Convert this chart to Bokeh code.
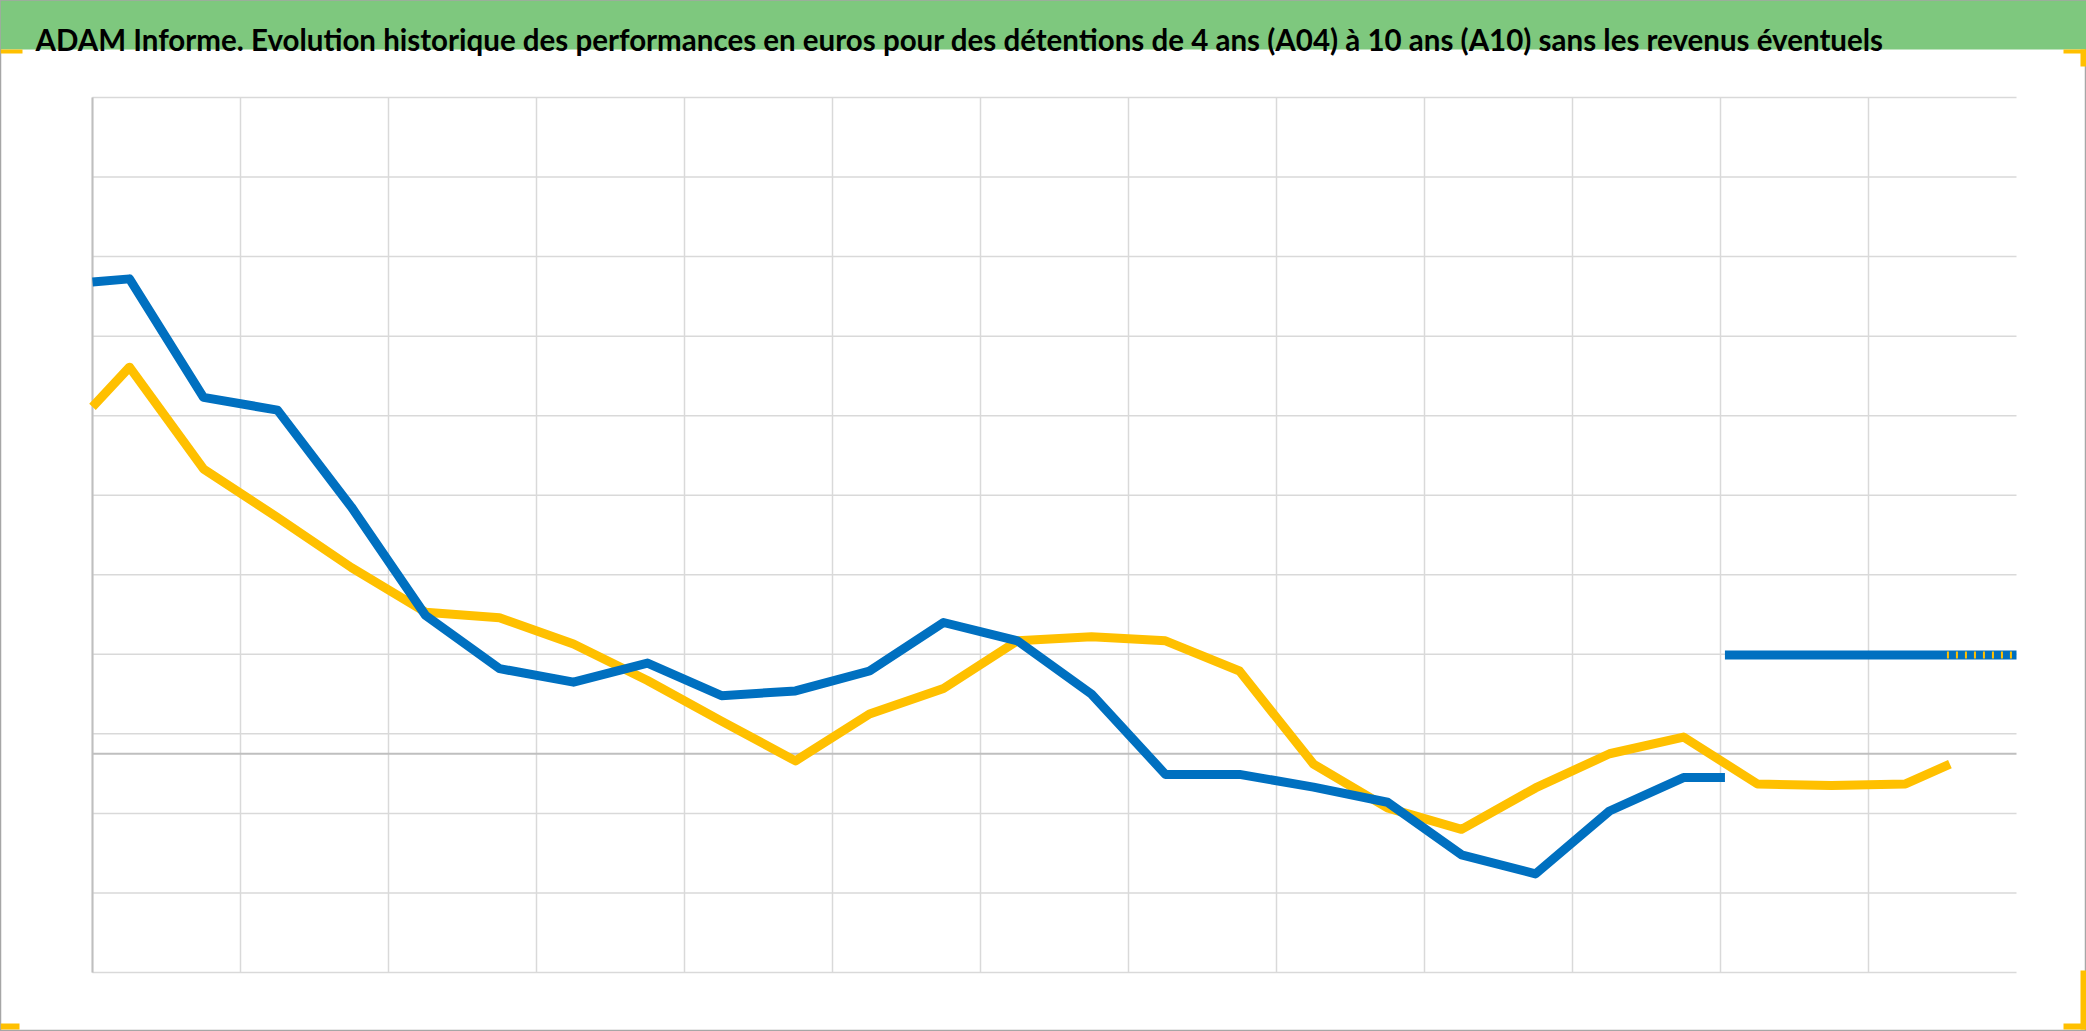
from bokeh.plotting import figure
from bokeh.models import Range1d, Label, BoxAnnotation
from bokeh.embed import file_html
from bokeh.resources import INLINE

title_text = ("ADAM Informe. Evolution historique des performances en euros pour des "
              "détentions de 4 ans (A04) à 10 ans (A10) sans les revenus éventuels")

# grid positions (no tick labels shown in the reference)
x_grid = [0, 1, 2, 3, 4, 5, 6, 7, 8, 9, 10, 11, 12]
y_grid = [-27.5, -17.5, -7.5, 2.5, 12.5, 22.5, 32.5, 42.5, 52.5, 62.5, 72.5, 82.5]
x_min, x_max = 0, 13
y_min, y_max = -27.5, 82.5

# series A04 (blue)
a04_x = [0, 0.25, 0.75, 1.25, 1.75, 2.25, 2.75, 3.25, 3.75, 4.25, 4.75, 5.25,
         5.75, 6.25, 6.75, 7.25, 7.75, 8.25, 8.75, 9.25, 9.75, 10.25, 10.75, 11.03]
a04_y = [59.3, 59.7, 44.8, 43.2, 31.0, 17.4, 10.7, 9.0, 11.4, 7.3, 7.9, 10.4,
         16.5, 14.2, 7.5, -2.6, -2.6, -4.2, -6.1, -12.7, -15.1, -7.2, -3.0, -3.0]
a04_tail_x = [11.03, 13.0]
a04_tail_y = [12.4, 12.4]

# series A10 (gold)
a10_x = [0, 0.25, 0.75, 1.25, 1.75, 2.25, 2.75, 3.25, 3.75, 4.25, 4.75, 5.25,
         5.75, 6.25, 6.75, 7.25, 7.75, 8.25, 8.75, 9.25, 9.75, 10.25, 10.75,
         11.25, 11.75, 12.25, 12.55]
a10_y = [43.6, 48.6, 35.8, 29.7, 23.4, 17.8, 17.1, 13.8, 9.2, 4.1, -0.9, 5.0,
         8.2, 14.2, 14.7, 14.2, 10.4, -1.3, -6.8, -9.5, -4.3, 0.0, 2.1,
         -3.8, -4.0, -3.8, -1.3]
a10_tail_x = [12.53, 13.0]
a10_tail_y = [12.4, 12.4]

GREEN = "#7EC87E"
BLUE = "#0070C0"
GOLD = "#FFC000"
ORANGE = "#FFC000"
GRID = "#D9D9D9"
AXIS = "#BFBFBF"

# canvas geometry (pixels)
W, H = 2086, 1031
PL, PR, PT, PB = 92, 2016, 97, 972   # plot area edges
BAND = 49                            # height of the title band

sx = (PR - PL) / (x_max - x_min)
sy = (PB - PT) / (y_max - y_min)
xr = Range1d(x_min - PL / sx, x_max + (W - PR) / sx)
yr = Range1d(y_min - (H - PB) / sy, y_max + PT / sy)

p = figure(width=W, height=H, x_range=xr, y_range=yr,
           output_backend="svg", toolbar_location=None,
           x_axis_location=None, y_axis_location=None, min_border=0,
           background_fill_color="white", border_fill_color="white",
           outline_line_color="#A6A6A6", outline_line_width=1.5)
p.grid.visible = False

# title band
p.add_layout(BoxAnnotation(left=0, right=W, bottom=H - BAND, top=H,
                           left_units="screen", right_units="screen",
                           bottom_units="screen", top_units="screen",
                           fill_color=GREEN, fill_alpha=1.0, line_color=None))
p.add_layout(Label(x=35, y=H - 39, x_units="screen", y_units="screen", text=title_text,
                   text_font="Lato", text_font_style="bold", text_font_size="29.5px",
                   text_color="black", text_baseline="alphabetic"))

# gridlines
p.segment(x0=x_grid, x1=x_grid, y0=[y_min] * len(x_grid), y1=[y_max] * len(x_grid),
          line_color=GRID, line_width=1.5)
p.segment(x0=[x_min] * len(y_grid), x1=[x_max] * len(y_grid), y0=y_grid, y1=y_grid,
          line_color=GRID, line_width=1.5)
# vertical axis line and zero line
p.segment(x0=[x_min], x1=[x_min], y0=[y_min], y1=[y_max], line_color=AXIS, line_width=2)
p.segment(x0=[x_min], x1=[x_max], y0=[0], y1=[0], line_color=AXIS, line_width=2)

# series
p.line(a10_x, a10_y, line_color=GOLD, line_width=9, line_join="round")
p.line(a04_x, a04_y, line_color=BLUE, line_width=9, line_join="round")
p.line(a04_tail_x, a04_tail_y, line_color=BLUE, line_width=9)
p.line(a10_tail_x, a10_tail_y, line_color=GOLD, line_width=7, line_dash="2 7")

# selection handles in the corners of the chart area
for l, r, b, t in [(0, 22, H - 53, H - 49), (2063, W, H - 53, H - 49), (2080, W, H - 66, H - 49),
                   (0, 19, 2, 8), (2063, W, 2, 8), (2080, W, 2, 61)]:
    p.add_layout(BoxAnnotation(left=l, right=r, bottom=b, top=t,
                               left_units="screen", right_units="screen",
                               bottom_units="screen", top_units="screen",
                               fill_color=ORANGE, fill_alpha=1.0, line_color=None))

open("out.html", "w").write(file_html(p, INLINE))
